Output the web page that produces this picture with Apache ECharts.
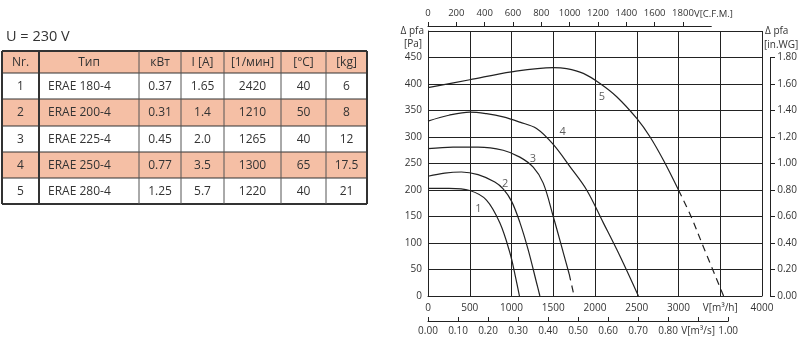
<!DOCTYPE html>
<html><head><meta charset="utf-8">
<script src="https://cdn.jsdelivr.net/npm/echarts@6/dist/echarts.min.js"></script>
<style>html,body{margin:0;padding:0;background:#fff}#c{width:800px;height:339px}</style>
</head><body><div id="c"></div><script>
// ---------- data ----------
const voltageLabel = 'U = 230 V';
const tableHeaders = ['Nr.', 'Тип', 'кВт', 'I [A]', '[1/мин]', '[°C]', '[kg]'];
const tableRows = [
  ['1', 'ERAE 180-4', '0.37', '1.65', '2420', '40', '6'],
  ['2', 'ERAE 200-4', '0.31', '1.4', '1210', '50', '8'],
  ['3', 'ERAE 225-4', '0.45', '2.0', '1265', '40', '12'],
  ['4', 'ERAE 250-4', '0.77', '3.5', '1300', '65', '17.5'],
  ['5', 'ERAE 280-4', '1.25', '5.7', '1220', '40', '21']
];
const highlightedRows = [1, 3];

const curveNames = ['1', '2', '3', '4', '5'];
// [flow m³/h, pressure Pa]
const curve1 = [[0,203],[250,203],[500,199],[700,181],[860,138],[980,82],[1045,38],[1095,0]];
const curve2 = [[0,226],[200,232],[400,234],[600,229],[800,215],[900,202],[1000,179],[1100,139],[1200,87],[1300,25],[1340,0]];
const curve3 = [[0,278],[300,281],[600,281],[900,275],[1100,262],[1260,243],[1380,213],[1500,150],[1620,82],[1690,42]];
const curve3Dashed = [[1690,42],[1750,0]];
const curve4 = [[0,330],[250,341],[500,347],[700,344],[900,338],[1100,328],[1300,316],[1500,286],[1700,244],[1900,200],[2100,138],[2300,75],[2520,0]];
const curve5 = [[0,393],[500,408],[1000,423],[1500,431],[1660,429],[1860,420],[2060,401],[2260,376],[2500,335],[2660,300],[2820,256],[3000,200]];
const curve5Dashed = [[3000,200],[3150,150],[3300,92],[3540,0]];
const curveLabelPos = [[604,165],[924,211],[1256,258],[1612,309],[2084,375]];

const flowUnitM3h = 'V[m³/h]';
const flowUnitCFM = 'V[C.F.M.]';
const flowUnitM3s = 'V[m³/s]';
const pressureName = 'Δ pfa';
const pressureUnitPa = '[Pa]';
const pressureUnitWG = '[in.WG]';

// ---------- layout / style ----------
const FONT = '"Open Sans", "Liberation Sans", sans-serif';
const INK = '#222';
const TXT = '#333';
const SALMON = '#F5BFA5';
const colEdges = [2, 39, 139, 181, 224, 281, 326, 367];
const rowEdges = [51, 73, 99, 126, 152, 178, 204];

const graphics = [];
graphics.push({type:'text', style:{text:voltageLabel, x:6, y:37, fill:TXT, font:'14.5px ' + FONT, verticalAlign:'middle'}});
const allRows = [tableHeaders].concat(tableRows);
allRows.forEach((row, r) => {
  const fillRow = r === 0 || highlightedRows.indexOf(r - 1) >= 0;
  if (fillRow) {
    graphics.push({type:'rect', shape:{x:colEdges[0], y:rowEdges[r], width:colEdges[colEdges.length-1]-colEdges[0], height:rowEdges[r+1]-rowEdges[r]}, style:{fill:SALMON}});
  }
  row.forEach((cell, c) => {
    const left = c === 1 && r > 0;
    graphics.push({type:'text', style:{
      text: cell,
      x: left ? colEdges[c] + 9 : (colEdges[c] + colEdges[c+1]) / 2,
      y: (rowEdges[r] + rowEdges[r+1]) / 2 + 0.5,
      align: left ? 'left' : 'center', verticalAlign:'middle',
      fill: TXT, font: '12px ' + FONT
    }});
  });
});
rowEdges.forEach((y, i) => {
  const outer = i === 0 || i === rowEdges.length - 1;
  graphics.push({type:'line', shape:{x1:colEdges[0], y1:y, x2:colEdges[colEdges.length-1], y2:y}, style:{stroke:'#333', lineWidth: outer ? 2 : 1.2}});
});
colEdges.forEach((x, i) => {
  const thick = i === 0 || i === 1 || i === colEdges.length - 1;
  graphics.push({type:'line', shape:{x1:x, y1:rowEdges[0], x2:x, y2:rowEdges[rowEdges.length-1]}, style:{stroke: thick ? '#333' : '#555', lineWidth: thick ? 2 : 1}});
});
graphics.push({type:'text', style:{text:pressureName, x:424, y:31, align:'right', verticalAlign:'middle', fill:TXT, font:'10px ' + FONT}});
graphics.push({type:'text', style:{text:pressureUnitPa, x:422, y:44, align:'right', verticalAlign:'middle', fill:TXT, font:'10px ' + FONT}});
graphics.push({type:'text', style:{text:pressureName, x:765, y:31, align:'left', verticalAlign:'middle', fill:TXT, font:'10px ' + FONT}});
graphics.push({type:'text', style:{text:pressureUnitWG, x:764, y:45, align:'left', verticalAlign:'middle', fill:TXT, font:'10px ' + FONT}});
// CFM unit label at the 2000 CFM end of the top axis
graphics.push({type:'text', style:{text:flowUnitCFM, x:694, y:14, align:'left', verticalAlign:'middle', fill:TXT, font:'9.5px ' + FONT}});

const labelStyle = {color: TXT, fontSize: 10, fontFamily: FONT, hideOverlap: false};
const lineStyle = {color: INK, width: 1};

const solidCurves = [curve1, curve2, curve3, curve4, curve5];
const series = solidCurves.map((d, i) => ({
  type:'line', name: curveNames[i], data: d, xAxisIndex:0, yAxisIndex:0,
  smooth: 0.35, showSymbol:false, silent:true,
  lineStyle:{color: INK, width: 1.2}
}));
[curve3Dashed, curve5Dashed].forEach(d => series.push({
  type:'line', data: d, xAxisIndex:0, yAxisIndex:0, smooth: 0.35,
  showSymbol:false, silent:true, lineStyle:{color: INK, width: 1.2, type:[7,5]}
}));
series.push({
  type:'scatter', xAxisIndex:0, yAxisIndex:0, symbolSize:0, silent:true,
  data: curveLabelPos.map((p, i) => ({value: p, name: curveNames[i]})),
  label:{show:true, position:'inside', formatter: p => p.name, color: TXT, fontSize: 11, fontFamily: FONT}
});

const chart = echarts.init(document.getElementById('c'), null, {renderer:'canvas'});
chart.setOption({
  animation:false,
  backgroundColor:'#fff',
  graphic: graphics,
  grid: [
    {left:428, right:38, top:31, height:265, containLabel:false},
    {left:428, width:283.3, top:25, height:1},
    {left:428, width:300.2, top:300, height:21},
    {right:29, width:1, top:57.5, height:238.5}
  ],
  xAxis: [
    {gridIndex:0, type:'value', min:0, max:4000, interval:500, position:'bottom',
     axisLine:{show:true, lineStyle:lineStyle}, axisTick:{show:false},
     axisLabel:{...labelStyle, margin:7, showMaxLabel:true, formatter: v => v === 3500 ? flowUnitM3h : String(v)},
     splitLine:{show:true, lineStyle:lineStyle}},
    {gridIndex:1, type:'value', min:0, max:2000, interval:200, position:'top',
     axisLine:{show:true, lineStyle:lineStyle}, axisTick:{show:true, length:4, lineStyle:lineStyle},
     axisLabel:{...labelStyle, fontSize:9.5, margin:7, showMaxLabel:false, showMinLabel:true, formatter: v => String(v)},
     splitLine:{show:false}},
    {gridIndex:2, type:'value', min:0, max:1, interval:0.1, position:'bottom',
     axisLine:{show:true, lineStyle:lineStyle}, axisTick:{show:true, inside:true, length:4, lineStyle:lineStyle},
     axisLabel:{...labelStyle, margin:5, showMaxLabel:true, showMinLabel:true, formatter: v => Math.abs(v - 0.9) < 1e-6 ? flowUnitM3s : v.toFixed(2)},
     splitLine:{show:false}},
    {gridIndex:3, type:'value', show:false}
  ],
  yAxis: [
    {gridIndex:0, type:'value', min:0, max:500, interval:50, position:'left',
     axisLine:{show:true, lineStyle:lineStyle}, axisTick:{show:false},
     axisLabel:{...labelStyle, margin:6, showMaxLabel:true, formatter: v => v === 500 ? '' : String(v)},
     splitLine:{show:true, lineStyle:lineStyle}},
    {gridIndex:1, type:'value', show:false},
    {gridIndex:2, type:'value', show:false},
    {gridIndex:3, type:'value', min:0, max:1.8, interval:0.2, position:'right',
     axisLine:{show:true, lineStyle:lineStyle}, axisTick:{show:true, length:5, lineStyle:lineStyle},
     axisLabel:{...labelStyle, margin:7, showMaxLabel:true, showMinLabel:true, formatter: v => v.toFixed(2)},
     splitLine:{show:false}}
  ],
  series: series
});
</script></body></html>
